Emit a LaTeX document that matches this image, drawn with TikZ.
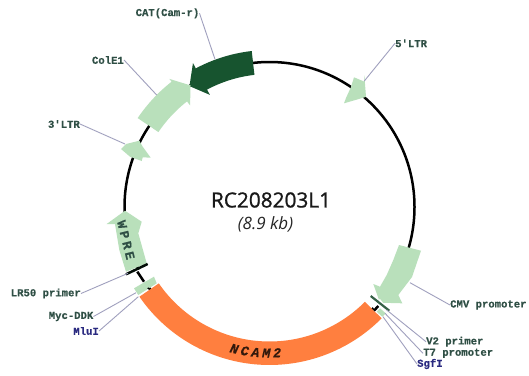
\documentclass[tikz,border=0pt]{standalone}
\usepackage{fontspec}
\usetikzlibrary{decorations.text}
\setmainfont{Open Sans}
\newfontfamily\labfont{Liberation Mono}[FakeBold=0.4]
\newfontfamily\wprefont{Liberation Mono}[FakeBold=0.4,LetterSpace=22]
\newfontfamily\titlefont{Open Sans}[FakeBold=1]
\definecolor{palegreen}{HTML}{B9E0BB}
\definecolor{darkgreen}{HTML}{17542F}
\definecolor{ncamorange}{HTML}{FF7F3F}
\definecolor{labgreen}{HTML}{2F4F45}
\definecolor{labblue}{HTML}{2A2A80}
\definecolor{leader}{HTML}{A0A0BE}
\tikzset{
  backbone/.style={line width=2.5pt,black},
  feature/.style={fill=palegreen,draw=none},
  leaderline/.style={draw=leader,line width=0.9pt},
  lab/.style={font=\labfont\bfseries\fontsize{10.6}{12}\selectfont,text=labgreen,inner sep=0pt},
  site/.style={lab,text=labblue},
  markbar/.style={line width=2.5pt,draw=darkgreen!80!black},
  stub/.style={line width=2.5pt,black}
}
% colour, tail angle, neck angle, tip angle, r in, r out, barb r in, barb r out
\newcommand\arrowband[8]{%
  \fill[#1] plot[domain=0:1,samples=24] ({269.5+#6*cos(#2+(#3-#2)*\x)},{207+#6*sin(#2+(#3-#2)*\x)})
    -- ({269.5+#8*cos(#3)},{207+#8*sin(#3)})
    -- ({269.5+145*cos(#4)},{207+145*sin(#4)})
    -- ({269.5+#7*cos(#3)},{207+#7*sin(#3)})
    -- plot[domain=0:1,samples=24] ({269.5+#5*cos(#3+(#2-#3)*\x)},{207+#5*sin(#3+(#2-#3)*\x)})
    -- cycle;}
\begin{document}
\begin{tikzpicture}[x=1pt,y=-1pt]
\useasboundingbox (0,0) rectangle (529,375);
\fill[white] (0,0) rectangle (529,375);
\coordinate (c) at (269.5,207);
\draw[backbone] (c) circle[radius=145];

% features
\arrowband{darkgreen}{-96.5}{-118}{-123.5}{133}{157}{127}{163}
\arrowband{palegreen}{-146}{-128}{-123}{134}{159}{129}{162.5}
\fill[feature] (121,149) -- (126,144) -- (139.3,140.7) -- (142.7,146.7) -- (150.7,157.7) -- (142.7,157.3) -- (141.7,161) -- (130,156.7) -- cycle;
\fill[feature] (354,77.3) -- (364,81.5) -- (364.3,75) -- (366,96.7) -- (364,97.5) -- (344,103.3) -- (346,98) -- (351,87) -- cycle;
\fill[feature] (399,245) -- (421,250.7) -- (412,277) -- (398.3,295) -- (402.3,303.3) -- (380,302.7) -- (373.3,284) -- (380,286.7) -- (386.7,275) -- (393.3,260) -- cycle;
\fill[feature] (126,271.7) -- (146.7,263.3) -- (138.3,233.3) -- (141.7,221.7) -- (125,210.7) -- (106.7,224) -- (115,224) -- (119.3,250) -- cycle;
\fill[white] (136,271) -- (146,266) -- (152,280) -- (140,290) -- cycle;
\fill[white] (372,306) -- (380,299) -- (392,314) -- (384,322) -- cycle;
\fill[ncamorange] plot[domain=44.8:145.4,samples=60] ({269.5+158*cos(\x)},{207+158*sin(\x)})
  -- plot[domain=0:100.6,samples=60] ({269.5+134.5*cos(145.4-\x)},{207+134.5*sin(145.4-\x)}) -- cycle;
\fill[feature] (380,308.3) -- (385.7,313.3) -- (382.3,316.7) -- (376.7,311.7) -- cycle;
\fill[feature] (134,288.3) -- (154,276.7) -- (156.7,283.3) -- (138.3,295) -- cycle;
\fill[black] (148.3,288.3) circle[radius=1];

% marks
\coordinate (lra) at (126,274.3);
\coordinate (lrb) at (147.7,264);
\coordinate (stubla) at (137.3,271.7);
\coordinate (stublb) at (144,281.7);
\coordinate (v2a) at (370.7,296);
\coordinate (v2b) at (389.3,310.7);
\coordinate (stubra) at (374,310.7);
\coordinate (stubrb) at (378.3,306);
\draw[stub] (stubla) -- (stublb);
\draw[stub] (stubra) -- (stubrb);
\draw[markbar,draw=black!85!darkgreen] (lra) -- (lrb);
\draw[markbar,line width=2.2pt,draw=darkgreen!70!gray] (v2a) -- (v2b);

% labels
\node[lab,anchor=east] (cat) at (199.5,13.3) {CAT(Cam-r)};
\node[lab,anchor=east] (cole) at (124,60) {ColE1};
\node[lab,anchor=east] (ltr3) at (80,124) {3'LTR};
\node[lab,anchor=west] (ltr5) at (395,43.3) {5'LTR};
\node[lab,anchor=west] (cmv) at (450,305) {CMV promoter};
\node[lab,anchor=west] (v2) at (426,341.7) {V2 primer};
\node[lab,anchor=west] (t7) at (423,353.3) {T7 promoter};
\node[site,anchor=west] (sgf) at (417,364) {SgfI};
\node[lab,anchor=east] (lr50) at (81,293.5) {LR50 primer};
\node[lab,anchor=east] (myc) at (93.5,316.5) {Myc-DDK};
\node[site,anchor=east] (mlu) at (99,331) {MluI};
\node[lab,rotate=-76,font=\wprefont\bfseries\fontsize{13}{14}\selectfont] (wpre) at (126,240) {WPRE};

% connector ends
\coordinate (pcat) at (215,59.3);
\coordinate (pcole) at (156.7,95);
\coordinate (pltr3) at (125,144);
\coordinate (pltr5) at (364.3,81);
\coordinate (pcmv) at (410,282.7);
\coordinate (pv2) at (386.7,310);
\coordinate (pt7) at (385,313.3);
\coordinate (psgf) at (383,316.7);
\coordinate (plr) at (128,273.3);
\coordinate (pmyc) at (136,292.7);
\coordinate (pmlu) at (138.3,296.7);
\draw[leaderline] (cat.east) -- (pcat);
\draw[leaderline] (cole.east) -- (pcole);
\draw[leaderline] (ltr3.east) -- (pltr3);
\draw[leaderline] (ltr5.west) -- (pltr5);
\draw[leaderline] (cmv.west) -- (pcmv);
\draw[leaderline] (v2.west) -- (pv2);
\draw[leaderline] (t7.west) -- (pt7);
\draw[leaderline] (sgf.west) -- (psgf);
\draw[leaderline] (lr50.east) -- (plr);
\draw[leaderline] (myc.east) -- (pmyc);
\draw[leaderline] (mlu.east) -- (pmlu);

% NCAM2 on its arc
\path[decorate,decoration={text along path,text align=fit to path,
   text={|\labfont\bfseries\itshape\fontsize{13.5}{14}\selectfont\color{black!80!ncamorange}|NCAM2}}]
   plot[domain=0:20,samples=30] ({269.5+150.5*cos(105.5-\x)},{207+150.5*sin(105.5-\x)});

% title
\node[inner sep=0pt,font=\titlefont\fontsize{20.8}{24}\selectfont,text=black!90] (title) at (271,200) {RC208203L1};
\node[inner sep=0pt,font=\itshape\fontsize{17}{20}\selectfont,text=black!85] (size) at (265.5,224) {(8.9 kb)};
\end{tikzpicture}
\end{document}
